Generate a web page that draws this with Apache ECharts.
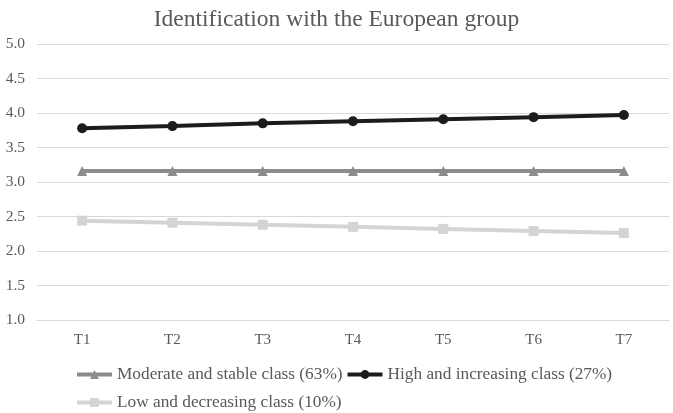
<!DOCTYPE html>
<html>
<head>
<meta charset="utf-8">
<script src="https://cdn.jsdelivr.net/npm/echarts@6/dist/echarts.min.js"></script>
<style>
html, body { margin: 0; padding: 0; background: #fff; }
#chart { width: 673px; height: 413px; }
</style>
</head>
<body>
<div id="chart"></div>
<script>
// time points and the three latent classes
var categories = ['T1', 'T2', 'T3', 'T4', 'T5', 'T6', 'T7'];
var moderateStable = [3.16, 3.16, 3.16, 3.16, 3.16, 3.16, 3.16];
var highIncreasing = [3.78, 3.81, 3.85, 3.88, 3.91, 3.94, 3.97];
var lowDecreasing = [2.44, 2.41, 2.38, 2.35, 2.32, 2.29, 2.26];
var seriesNames = ['Moderate and stable class (63%)', 'High and increasing class (27%)', 'Low and decreasing class (10%)'];

var font = '"Liberation Serif", "DejaVu Serif", serif';
var textColor = '#595959';

function makeLine(name, data, color, symbol) {
    return {
        name: name,
        type: 'line',
        data: data,
        symbol: symbol,
        symbolSize: 10,
        lineStyle: { color: color, width: 4 },
        itemStyle: { color: color },
        emphasis: { disabled: true }
    };
}

var myChart = echarts.init(document.getElementById('chart'));

var legendText = { fontFamily: font, fontSize: 17.3, color: textColor };

var option = {
    animation: false,
    title: {
        text: 'Identification with the European group',
        left: 'center',
        top: 3,
        textStyle: { fontFamily: font, fontSize: 23.5, fontWeight: 'normal', color: textColor }
    },
    legend: [{
        data: [seriesNames[0], seriesNames[1]],
        left: 70,
        top: 361,
        itemWidth: 35,
        itemHeight: 11,
        itemGap: 3,
        lineStyle: { width: 4 },
        textStyle: legendText
    }, {
        data: [seriesNames[2]],
        left: 70,
        top: 389,
        itemWidth: 35,
        itemHeight: 11,
        lineStyle: { width: 4 },
        textStyle: legendText
    }],
    grid: { left: 37, right: 4, top: 44, bottom: 93 },
    xAxis: {
        type: 'category',
        data: categories,
        axisLine: { lineStyle: { color: '#d9d9d9', width: 1 } },
        axisTick: { show: false },
        axisLabel: { fontFamily: font, fontSize: 15, color: textColor, margin: 13 }
    },
    yAxis: {
        type: 'value',
        min: 1,
        max: 5,
        interval: 0.5,
        axisLine: { show: false },
        axisTick: { show: false },
        splitLine: { lineStyle: { color: '#d9d9d9', width: 1 } },
        axisLabel: {
            fontFamily: font, fontSize: 15.5, color: textColor, margin: 12,
            formatter: function (v) { return v.toFixed(1); }
        }
    },
    series: [
        makeLine(seriesNames[0], moderateStable, '#8c8c8c', 'triangle'),
        makeLine(seriesNames[1], highIncreasing, '#1c1c1c', 'circle'),
        makeLine(seriesNames[2], lowDecreasing, '#d4d4d4', 'rect')
    ]
};

myChart.setOption(option);
</script>
</body>
</html>
